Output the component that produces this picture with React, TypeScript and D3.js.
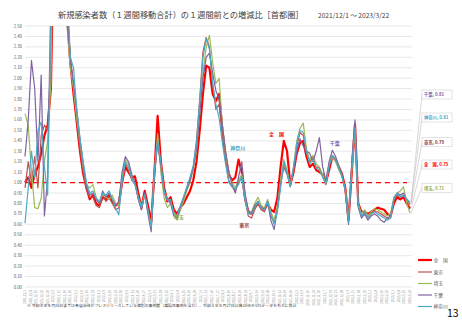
import React from "react";
import * as d3 from "d3";

const startDate = new Date(2021, 11, 1);
const dayStep = 4;
const seriesNames = ["全　国", "東京", "埼玉", "千葉", "神奈川"];
const seriesColors = ["#FF0000", "#C0504D", "#9BBB59", "#8064A2", "#4BACC6"];
const seriesWidths = [2.2, 1.2, 1.2, 1.2, 1.2];

const zenkoku = [1.00,1.05,0.95,1.08,1.15,1.28,1.45,1.55,1.90,3.50, 6.00,5.00,3.80,2.60,2.15,1.85,1.58,1.30,1.08,0.95, 0.84,0.88,0.80,0.78,0.86,0.84,0.88,0.82,0.78,0.80, 1.00,1.15,1.10,1.05,1.06,0.90,0.76,0.92,0.78,0.62, 1.10,1.64,1.20,0.95,0.82,0.86,0.74,0.70,0.76,0.80, 0.86,0.92,1.02,1.20,1.50,1.85,2.12,2.10,1.85,1.78, 1.85,1.50,1.25,1.08,1.02,1.05,1.22,1.10,0.85,0.72, 0.70,0.76,0.80,0.76,0.74,0.80,0.74,0.72,0.85,1.15, 1.40,1.30,0.98,1.10,1.28,1.38,1.40,1.25,1.15,1.18, 1.12,1.10,1.08,1.00,1.12,1.25,1.22,1.15,1.08,0.95, 0.64,1.10,1.56,0.80,0.72,0.72,0.70,0.72,0.74,0.76, 0.75,0.74,0.70,0.68,0.80,0.86,0.84,0.86,0.80,0.75];
const tokyo = [0.95,1.20,1.00,1.25,0.95,1.45,1.55,1.50,2.20,4.50, 7.00,5.50,4.00,2.70,2.20,1.90,1.60,1.32,1.10,0.93, 0.86,0.86,0.78,0.76,0.88,0.82,0.85,0.80,0.74,0.76, 0.98,1.18,1.12,1.02,1.00,0.85,0.74,0.90,0.74,0.58, 1.05,1.40,1.15,0.90,0.84,0.82,0.70,0.66,0.74,0.84, 0.94,1.04,1.15,1.40,1.80,2.25,2.39,2.30,1.95,1.70, 1.75,1.45,1.20,1.02,0.96,0.92,1.00,1.05,0.84,0.68, 0.66,0.74,0.80,0.74,0.72,0.80,0.68,0.62,0.75,1.00, 1.18,1.10,0.96,1.12,1.35,1.48,1.45,1.28,1.20,1.24, 1.15,1.14,1.06,0.98,1.15,1.26,1.22,1.14,1.06,0.92, 0.62,1.15,1.55,0.78,0.68,0.70,0.66,0.70,0.72,0.72, 0.70,0.68,0.66,0.66,0.82,0.88,0.86,0.88,0.82,0.79];
const saitama = [1.66,1.55,1.10,0.76,0.75,0.85,1.20,1.40,1.95,4.00, 6.50,5.20,3.60,2.50,2.10,1.90,1.62,1.40,1.15,0.98, 0.95,0.98,0.86,0.80,0.90,0.86,0.84,0.88,0.80,0.78, 1.05,1.22,1.18,1.04,0.98,0.86,0.78,0.88,0.72,0.60, 1.10,1.47,1.10,0.85,0.76,0.80,0.72,0.64,0.74,0.82, 0.92,1.00,1.12,1.30,1.65,2.05,2.30,2.41,2.15,1.95, 2.00,1.55,1.28,1.08,1.00,0.95,1.02,1.08,0.86,0.72, 0.72,0.80,0.86,0.78,0.76,0.84,0.72,0.64,0.78,1.02, 1.22,1.12,0.98,1.15,1.40,1.52,1.57,1.32,1.22,1.26, 1.18,1.15,1.08,1.00,1.18,1.24,1.20,1.12,1.05,0.94, 0.66,1.12,1.50,0.80,0.70,0.74,0.68,0.72,0.75,0.74, 0.72,0.70,0.68,0.70,0.86,0.90,0.92,0.96,0.80,0.71];
const chiba = [1.25,1.60,2.17,1.90,1.20,2.03,0.68,1.05,2.80,6.00, 7.00,5.00,3.50,2.55,2.20,1.95,1.70,1.42,1.18,0.96, 0.88,0.90,0.84,0.80,0.92,0.86,0.90,0.84,0.78,0.82, 1.10,1.25,1.20,1.08,1.00,0.84,0.74,0.90,0.70,0.53, 1.08,1.38,1.16,0.92,0.84,0.80,0.68,0.66,0.76,0.86, 0.94,1.02,1.14,1.32,1.65,2.00,2.20,2.24,2.05,1.88, 1.80,1.55,1.30,1.10,0.98,0.90,1.05,1.20,0.90,0.74, 0.70,0.78,0.82,0.76,0.74,0.82,0.64,0.55,0.74,0.98, 1.15,1.08,0.97,1.12,1.30,1.42,1.35,1.30,1.28,1.20, 1.30,1.43,1.15,1.02,1.20,1.31,1.25,1.16,1.08,0.92, 0.60,1.20,1.60,0.76,0.66,0.70,0.64,0.68,0.70,0.68, 0.64,0.62,0.66,0.68,0.84,0.90,0.88,0.90,0.84,0.81];
const kanagawa = [0.61,0.95,1.30,1.05,1.50,1.58,1.15,0.88,2.60,5.50, 7.50,5.80,4.20,2.90,2.20,2.10,1.70,1.42,1.20,1.00, 0.90,0.92,0.85,0.82,0.90,0.88,0.92,0.84,0.76,0.69, 1.02,1.20,1.15,1.04,0.98,0.86,0.76,0.88,0.74,0.57, 1.12,1.40,1.20,0.92,0.83,0.84,0.70,0.68,0.78,0.86, 0.96,1.05,1.16,1.38,1.78,2.20,2.38,2.28,1.95,1.75, 1.62,1.38,1.18,1.00,0.96,0.94,0.98,1.06,0.84,0.70, 0.70,0.76,0.82,0.76,0.74,0.82,0.70,0.60,0.72,0.95, 1.20,1.10,0.96,1.15,1.38,1.50,1.48,1.30,1.18,1.22, 1.14,1.12,1.05,0.99,1.16,1.26,1.22,1.14,1.06,0.93, 0.62,1.14,1.52,0.78,0.68,0.72,0.66,0.70,0.72,0.70, 0.68,0.66,0.64,0.66,0.84,0.90,0.86,0.88,0.84,0.81];
const allSeries = [zenkoku, tokyo, saitama, chiba, kanagawa];

const yTicks = d3.range(0, 26).map((i) => i / 10);
const calloutOrder = [3, 4, 1, 0, 2];
const calloutLabels = ["千葉, 0.81", "神奈川, 0.81", "東京, 0.79", "全　国, 0.75", "埼玉, 0.71"];
const calloutColors = ["#7F5FA8", "#3FA9C9", "#943634", "#FF0000", "#8FB04F"];
const inlineLabels = [
  { text: "埼玉", day: 190, v: 0.65, color: "#8FB04F" },
  { text: "神奈川", day: 263, v: 1.31, color: "#3FA9C9" },
  { text: "東京", day: 271, v: 0.57, color: "#943634" },
  { text: "全　国", day: 311, v: 1.45, color: "#FF0000" },
  { text: "千葉", day: 383, v: 1.36, color: "#7F5FA8" },
];
const footnote = "※ 令和４年９月26日までは各自治体がプレスリリースしている個別の事例数（再陽性事例を含む）、令和４年９月27日以降はHER-SYSデータをもとに集計";
const titleText = "新規感染者数（１週間移動合計）の１週間前との増減比［首都圏］";
const rangeText = "2021/12/1 ～ 2023/3/22";

const W = 462, H = 320;
const left = 25, right = 410, top = 26, bottom = 287;
const FONT = "'Noto Sans CJK JP', 'Noto Sans', sans-serif";

export default function App() {
  const totalDays = dayStep * (zenkoku.length - 1);
  const x = d3.scaleLinear().domain([0, totalDays]).range([left, right]);
  const y = d3.scaleLinear().domain([0, 2.5]).range([bottom, top]);
  const line = d3.line<number>().x((_, i) => x(i * dayStep)).y((v) => y(v));
  const weekly = d3.range(0, totalDays + 1, 7);
  const fmt = d3.timeFormat("%Y/%-m/%-d");
  const endX = x(totalDays);
  const legendYs = [260, 272, 283.5, 295, 306.5];
  const boxYs = [94.5, 117.5, 142, 164.5, 188];

  return (
    <svg width={W} height={H} style={{ position: "absolute", left: 0, top: 0, background: "#fff" }} fontFamily={FONT}>
      <rect x={0} y={0} width={W} height={H} fill="#fff" />
      <defs>
        <clipPath id="plotClip">
          <rect x={left - 2} y={top} width={right - left + 6} height={bottom - top + 4} />
        </clipPath>
      </defs>
      <text x={58} y={18} fontSize={8.2} fill="#404040">{titleText}</text>
      <text x={318} y={18} fontSize={6.6} fill="#404040">{rangeText}</text>
      {yTicks.map((t) => (
        <g key={t}>
          <line x1={left} x2={right + 2} y1={y(t)} y2={y(t)} stroke="#D9D9D9" strokeWidth={0.6} />
          <text x={22} y={y(t) + 1.5} fontSize={4.3} textAnchor="end" fill="#595959">{t.toFixed(2)}</text>
        </g>
      ))}
      {weekly.map((d) => (
        <text key={d} transform={`translate(${x(d) + 1},${bottom + 3}) rotate(-90)`} fontSize={3} textAnchor="end" fill="#7F7F7F">
          {fmt(d3.timeDay.offset(startDate, d))}
        </text>
      ))}
      <line x1={left} x2={407} y1={y(1)} y2={y(1)} stroke="#FF0000" strokeWidth={1.3} strokeDasharray="5,4" />
      <g clipPath="url(#plotClip)">
        {allSeries.map((s, i) => (
          <path key={i} d={line(s) || ""} fill="none" stroke={seriesColors[i]} strokeWidth={seriesWidths[i]} strokeLinejoin="round" />
        ))}
      </g>
      {inlineLabels.map((l) => (
        <text key={l.text} x={x(l.day)} y={y(l.v)} fontSize={5} fontWeight="bold" fill={l.color} textAnchor="middle">{l.text}</text>
      ))}
      {calloutOrder.map((si, k) => (
        <g key={si}>
          <line x1={endX + 1} y1={y(allSeries[si][allSeries[si].length - 1])} x2={422} y2={boxYs[k]} stroke="#BFBFBF" strokeWidth={0.6} />
          <rect x={422} y={boxYs[k] - 4.5} width={30} height={9} fill="#fff" stroke="#D0D0D0" strokeWidth={0.6} />
          <text x={424} y={boxYs[k] + 1.6} fontSize={4.3} fontWeight="bold" fill={calloutColors[k]}>{calloutLabels[k]}</text>
        </g>
      ))}
      {seriesNames.map((n, i) => (
        <g key={n}>
          <line x1={418} x2={432} y1={legendYs[i]} y2={legendYs[i]} stroke={seriesColors[i]} strokeWidth={i === 0 ? 2.2 : 1.2} />
          <text x={433.5} y={legendYs[i] + 1.7} fontSize={4.8} fill="#595959">{n}</text>
        </g>
      ))}
      <text x={27} y={307} fontSize={3.9} fill="#404040">{footnote}</text>
      <text x={447} y={317} fontSize={10.5} fill="#000">13</text>
    </svg>
  );
}
